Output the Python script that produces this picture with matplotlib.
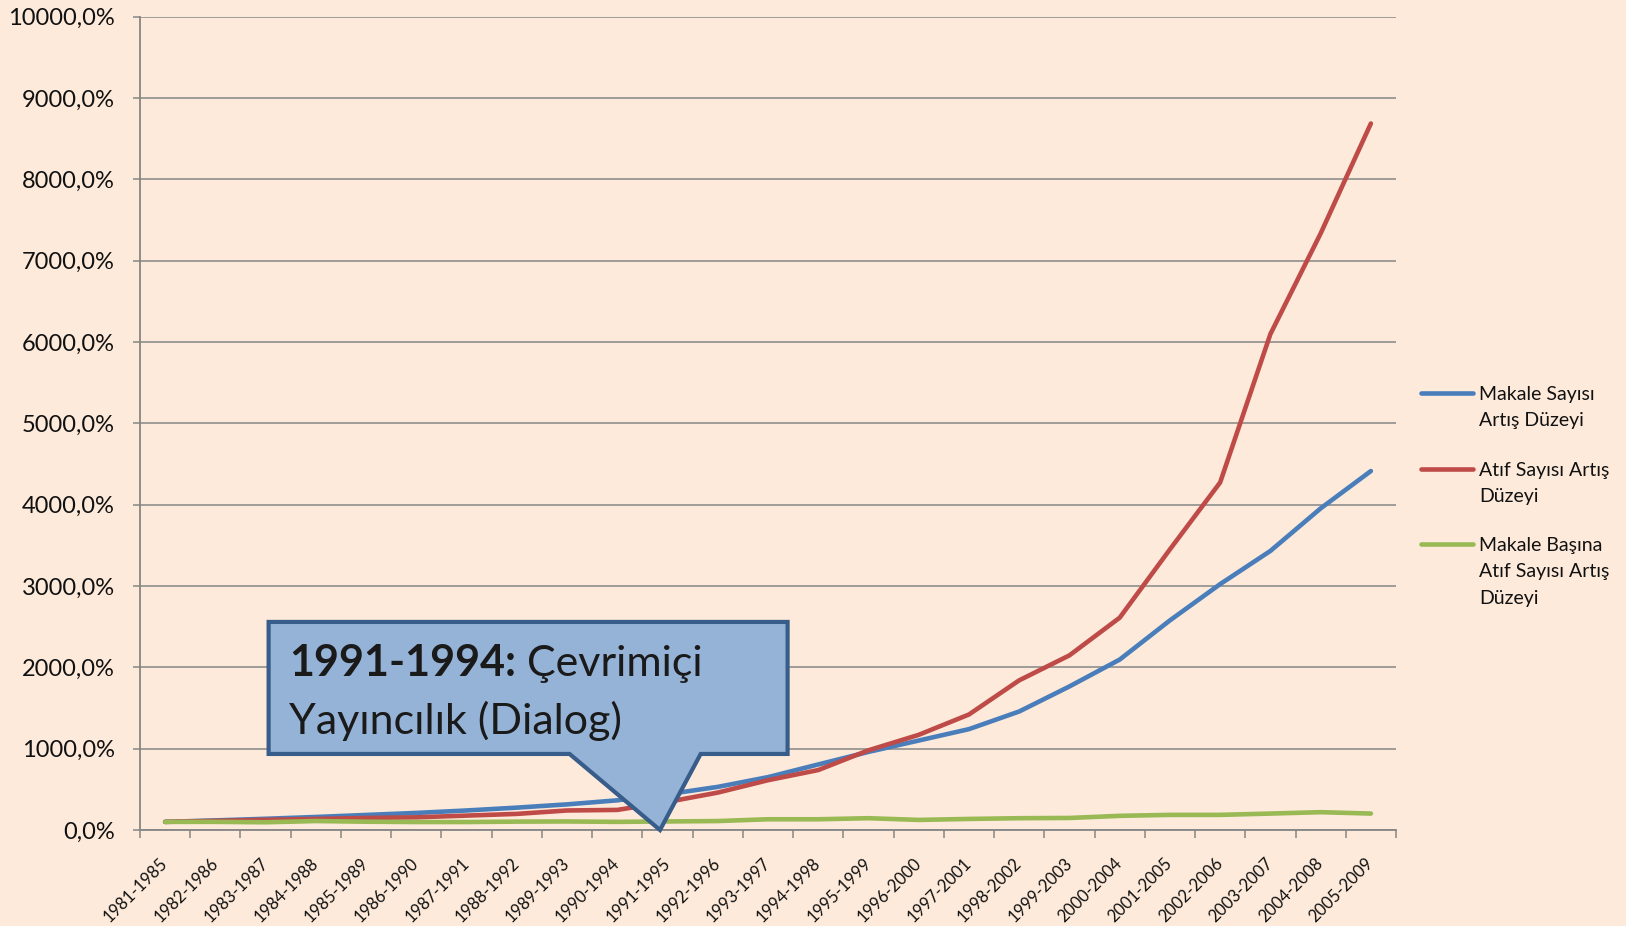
import matplotlib
matplotlib.use("Agg")
import matplotlib.pyplot as plt
from matplotlib.patches import Polygon
from matplotlib.lines import Line2D

plt.rcParams['font.family'] = ['Lato', 'DejaVu Sans']

categories = ["1981-1985", "1982-1986", "1983-1987", "1984-1988", "1985-1989",
              "1986-1990", "1987-1991", "1988-1992", "1989-1993", "1990-1994",
              "1991-1995", "1992-1996", "1993-1997", "1994-1998", "1995-1999",
              "1996-2000", "1997-2001", "1998-2002", "1999-2003", "2000-2004",
              "2001-2005", "2002-2006", "2003-2007", "2004-2008", "2005-2009"]

makale = [100, 118, 138, 160, 185, 210, 240, 275, 315, 365, 440, 530, 650,
          806, 960, 1100, 1240, 1457, 1765, 2095, 2577, 3023, 3431, 3954, 4413]
atif = [100, 112, 125, 136, 148, 156, 177, 198, 240, 247, 345, 460, 612,
        737, 980, 1170, 1420, 1840, 2147, 2610, 3450, 4273, 6097, 7334, 8686]
makale_basina = [100, 100, 95, 110, 102, 98, 98, 103, 105, 100, 105, 110, 132,
                 132, 145, 124, 136, 145, 148, 174, 186, 186, 202, 219, 202]

series_labels = ["Makale Sayısı\nArtış Düzeyi",
                 "Atıf Sayısı Artış\nDüzeyi",
                 "Makale Başına\nAtıf Sayısı Artış\nDüzeyi"]
colors = ["#4A7EBB", "#BE4B48", "#98B954"]

yticks = list(range(0, 10001, 1000))

BG = "#FDEADA"
GRID = "#868686"
TXT = "#111111"
W, H = 1626, 926

fig = plt.figure(figsize=(W / 100, H / 100), dpi=100, facecolor=BG)
ax = fig.add_axes([140 / W, (H - 830) / H, (1396 - 140) / W, (830 - 16.6) / H])
ax.set_facecolor(BG)

x = list(range(len(categories)))
for vals, c in zip([makale, atif, makale_basina], colors):
    ax.plot(x, vals, color=c, lw=3.3, solid_capstyle='round',
            solid_joinstyle='round', zorder=3)

ax.set_xlim(-0.5, len(categories) - 0.5)
ax.set_ylim(0, 10000)

ax.set_yticks(yticks)
ax.set_yticklabels([f"{v:.1f}".replace('.', ',') + '%' for v in yticks])
ax.yaxis.grid(True, color=GRID, lw=1.1)
ax.set_axisbelow(True)
ax.tick_params(axis='y', length=5, width=1.1, color=GRID, pad=13,
               labelsize=17, labelcolor=TXT)

ax.set_xticks([i - 0.5 for i in range(len(categories) + 1)])
ax.set_xticklabels([])
ax.set_xticks(x, minor=True)
ax.set_xticklabels(categories, minor=True)
ax.tick_params(axis='x', which='major', length=6, width=1.1, color=GRID)
ax.tick_params(axis='x', which='minor', length=0, pad=22, labelsize=12,
               labelcolor=TXT)
for lab in ax.get_xticklabels(minor=True):
    lab.set_rotation(45)
    lab.set_ha('right')
    lab.set_va('center')
    lab.set_rotation_mode('anchor')

for s in ['top', 'right']:
    ax.spines[s].set_visible(False)
for s in ['left', 'bottom']:
    ax.spines[s].set_color(GRID)
    ax.spines[s].set_linewidth(1.3)

# Callout
callout = Polygon([(2.06, 2558), (12.39, 2558), (12.39, 935), (10.66, 935),
                   (9.85, 0), (8.05, 935), (2.06, 935)], closed=True,
                  facecolor="#95B3D7", edgecolor="#385D8A", lw=3.0,
                  joinstyle='miter', clip_on=False, zorder=5)
ax.add_patch(callout)
t1 = ax.text(2.47, 1893, "1991-1994:", fontsize=31, fontweight='bold',
             color='#1a1a1a', va='baseline', ha='left', zorder=6)
ax.annotate(" Çevrimiçi", xy=(1, 0), xycoords=t1, va='bottom', ha='left',
            fontsize=31, color='#1a1a1a', zorder=6)
ax.text(2.47, 1180, "Yayıncılık (Dialog)", fontsize=31, color='#1a1a1a',
        va='baseline', ha='left', zorder=6)

# Legend (manual)
entry_line_y = [393, 469, 544]
for lbl, c, ly in zip(series_labels, colors, entry_line_y):
    fig.add_artist(Line2D([1421 / W, 1473 / W], [(H - ly) / H, (H - ly) / H],
                          color=c, lw=3.3, solid_capstyle='round'))
    for k, line in enumerate(lbl.split("\n")):
        base = ly + 7 + k * 26.3
        fig.text(1479 / W, (H - base) / H, line, fontsize=14, color=TXT,
                 va='baseline', ha='left')

fig.savefig("out.png", dpi=100, facecolor=BG)
